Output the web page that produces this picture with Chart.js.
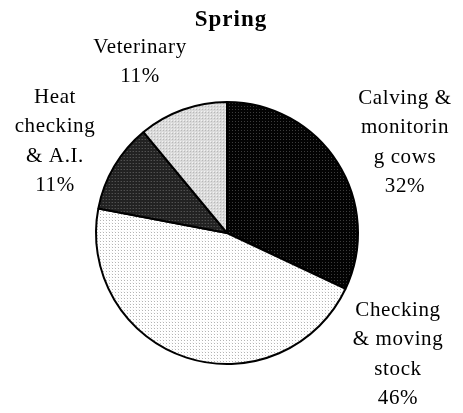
<!DOCTYPE html>
<html>
<head>
<meta charset="utf-8">
<script src="https://cdn.jsdelivr.net/npm/chart.js@4.4.0/dist/chart.umd.min.js"></script>
<style>
  html, body { margin: 0; padding: 0; background: #fff; }
  #wrap { width: 463px; height: 413px; }
</style>
</head>
<body>
<div id="wrap"><canvas id="springChart" width="463" height="413"></canvas></div>
<script>
const chartTitle = "Spring";
const categories = ["Calving & monitoring cows", "Checking & moving stock", "Heat checking & A.I.", "Veterinary"];
const shares = [32, 46, 11, 11];
// how the labels wrap in the original
const labelLines = [
  ["Calving &", "monitorin", "g cows"],
  ["Checking", "& moving", "stock"],
  ["Heat", "checking", "& A.I."],
  ["Veterinary"]
];

// small dotted fills like the old spreadsheet patterns
function makePattern(base, dots) {
  const c = document.createElement("canvas");
  c.width = 3;
  c.height = 3;
  const g = c.getContext("2d");
  g.fillStyle = base;
  g.fillRect(0, 0, 3, 3);
  dots.forEach(d => {
    g.fillStyle = d[2];
    g.fillRect(d[0], d[1], 1, 1);
  });
  return g.createPattern(c, "repeat");
}

const fills = [
  makePattern("#030303", [[1, 1, "#3c3c3c"]]),
  makePattern("#ffffff", [[1, 1, "#b4b4b4"], [0, 0, "#f4f4f4"]]),
  makePattern("#222222", [[1, 1, "#505050"], [0, 1, "#363636"]]),
  makePattern("#dadada", [[1, 1, "#b8b8b8"], [0, 0, "#f2f2f2"]])
];

// label anchors relative to the pie centre (centre x, first line y)
const labelOffsets = [[178, -135], [171, 77], [-172, -136], [-87, -186]];

const textPlugin = {
  id: "pieText",
  afterDraw(chart) {
    const ctx = chart.ctx;
    const arc = chart.getDatasetMeta(0).data[0];
    const cx = arc.x, cy = arc.y;
    ctx.save();
    ctx.fillStyle = "#000";
    ctx.textAlign = "center";
    ctx.textBaseline = "middle";

    ctx.font = "bold 23px 'Liberation Serif'";
    ctx.letterSpacing = "1px";
    ctx.fillText(chartTitle, cx + 4, 20);

    ctx.font = "21px 'Liberation Serif'";
    ctx.letterSpacing = "0.6px";
    const lh = 29.5;
    shares.forEach((v, i) => {
      const lines = labelLines[i].concat([v + "%"]);
      const x = cx + labelOffsets[i][0];
      let y = cy + labelOffsets[i][1];
      lines.forEach(t => {
        ctx.fillText(t, x, y);
        y += lh;
      });
    });
    ctx.restore();
  }
};

new Chart(document.getElementById("springChart"), {
  type: "pie",
  data: {
    labels: categories,
    datasets: [{
      data: shares,
      backgroundColor: fills,
      borderColor: "#000",
      borderWidth: 2
    }]
  },
  options: {
    responsive: false,
    animation: false,
    layout: {
      padding: { left: 95, right: 104, top: 101, bottom: 48 }
    },
    plugins: {
      legend: { display: false },
      tooltip: { enabled: false }
    }
  },
  plugins: [textPlugin]
});
</script>
</body>
</html>
